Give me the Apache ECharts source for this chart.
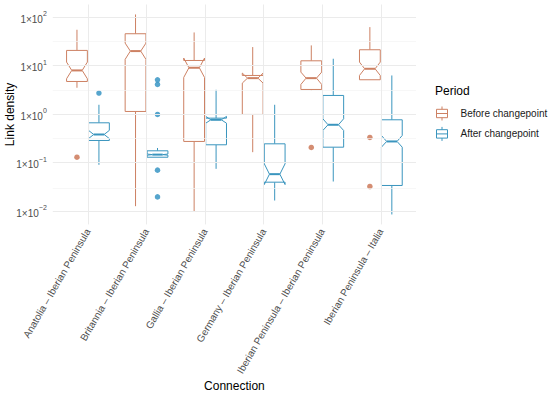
<!DOCTYPE html>
<html><head><meta charset="utf-8">
<script src="https://cdn.jsdelivr.net/npm/echarts@6/dist/echarts.min.js"></script>
<style>html,body{margin:0;padding:0;background:#fff}#c{width:550px;height:394px}</style>
</head><body><div id="c"></div>
<script>
const categories = ['Anatolia – Iberian Peninsula','Britannia – Iberian Peninsula','Gallia – Iberian Peninsula','Germany – Iberian Peninsula','Iberian Peninsula – Iberian Peninsula','Iberian Peninsula – Italia'];
const periods = ['Before changepoint','After changepoint'];
// Before changepoint
const beforeLow       = [3.5,   0.0126, 0.0098, 0.164, 3.09, 5.12];
const beforeQ1        = [4.72,  1.135,  0.273,  0.984, 3.23, 5.12];
const beforeMedian    = [7.98,  20.0,   9.06,   5.53,  5.53, 8.63];
const beforeQ3        = [20.65, 45.6,   12.8,   6.28,  12.6, 21.3];
const beforeHigh      = [55.1,  114,    48.5,   24.2,  26.2, 62.5];
const beforeNotchLow  = [5.37,  13.5,   5.71,   4.37,  4.1,  6.28];
const beforeNotchHigh = [11.86, 29.2,   14.35,  7.03,  7.36, 11.86];
const beforeOutliers  = [[1, 0.129], [5, 0.205], [6, 0.33], [6, 0.0321]];
// After changepoint
const afterLow       = [0.09,  0.129, 0.0743, 0.0165, 0.0407, 0.0085];
const afterQ1        = [0.286, 0.129, 0.233,  0.0394, 0.208,  0.0337];
const afterMedian    = [0.38,  0.146, 0.764,  0.0577, 0.603,  0.273];
const afterQ3        = [0.662, 0.175, 0.826,  0.244,  2.43,   0.764];
const afterHigh      = [1.56,  0.2,   3.18,   1.56,   13.9,   6.28];
const afterNotchLow  = [0.313, 0.142, 0.65,   0.0352, 0.46,   0.208];
const afterNotchHigh = [0.462, 0.150, 0.897,  0.0944, 0.802,  0.363];
const afterOutliers  = [[1, 2.72], [2, 5.12], [2, 4.1], [2, 0.984], [2, 0.0698], [2, 0.0196]];
// Axis ticks
const yMajorTicks = [0.01, 0.1, 1, 10, 100];
const yMinorTicks = [0.0316, 0.316, 3.16, 31.6];

const COLORS = ['#CD8163', '#3A95BE'];
const DOT_COLORS = ['#C9714F', '#2C8FC0'];
const OFFSET = [-0.1875, 0.1875];
const BOX_W = 0.355;
const FONT = 'Liberation Sans, Arial, Helvetica, sans-serif';

function boxData(lo, q1, med, q3, hi, nl, nh) {
  return categories.map((c, i) => [i + 1, lo[i], q1[i], med[i], q3[i], hi[i], nl[i], nh[i]]);
}

function makeRender(g) {
  return function (params, api) {
    const cx = api.value(0) + OFFSET[g];
    const lo = api.value(1), q1 = api.value(2), med = api.value(3), q3 = api.value(4);
    const hi = api.value(5), nl = api.value(6), nh = api.value(7);
    const pL = api.coord([cx - BOX_W / 2, med])[0];
    const pR = api.coord([cx + BOX_W / 2, med])[0];
    const pC = api.coord([cx, med])[0];
    const Y = v => api.coord([cx, v])[1];
    const ind = (pR - pL) * 0.25;
    const col = COLORS[g];
    const children = [];
    children.push({ type: 'line', shape: { x1: pC, y1: Y(q3), x2: pC, y2: Y(hi) }, style: { stroke: col, lineWidth: 1 } });
    children.push({ type: 'line', shape: { x1: pC, y1: Y(q1), x2: pC, y2: Y(lo) }, style: { stroke: col, lineWidth: 1 } });
    children.push({
      type: 'polygon',
      shape: { points: [[pL, Y(q3)], [pL, Y(nh)], [pL + ind, Y(med)], [pL, Y(nl)], [pL, Y(q1)],
                        [pR, Y(q1)], [pR, Y(nl)], [pR - ind, Y(med)], [pR, Y(nh)], [pR, Y(q3)]] },
      style: { fill: '#ffffff', stroke: col, lineWidth: 1 }
    });
    children.push({ type: 'line', shape: { x1: pL + ind, y1: Y(med), x2: pR - ind, y2: Y(med) }, style: { stroke: col, lineWidth: 2 } });
    return { type: 'group', children };
  };
}

const gridLines = [];
yMajorTicks.forEach(v => gridLines.push({ yAxis: v, lineStyle: { color: '#EBEBEB', width: 1, type: 'solid' } }));
yMinorTicks.forEach(v => gridLines.push({ yAxis: v, lineStyle: { color: '#F3F3F3', width: 0.7, type: 'solid' } }));
categories.forEach((c, i) => gridLines.push({ xAxis: i + 1, lineStyle: { color: '#EBEBEB', width: 1, type: 'solid' } }));

const legendIcon = 'path://M55,0L55,28M0,28L110,28L110,112L0,112ZM0,70L110,70M55,112L55,140';

const chart = echarts.init(document.getElementById('c'), null, { renderer: 'svg' });
chart.setOption({
  animation: false,
  backgroundColor: '#ffffff',
  textStyle: { fontFamily: FONT },
  title: { text: 'Period', left: 430, top: 80, textStyle: { fontSize: 12, fontWeight: 'normal', color: '#000', fontFamily: FONT } },
  legend: {
    orient: 'vertical', left: 436, top: 106, padding: 0, itemWidth: 11, itemHeight: 14, itemGap: 5.4,
    icon: legendIcon, selectedMode: false,
    textStyle: { fontSize: 10, color: '#1a1a1a', fontFamily: FONT, padding: [0, 0, 0, 8], overflow: 'none' },
    data: periods.map((p, g) => ({ name: p, itemStyle: { color: 'rgba(255,255,255,0)', borderColor: COLORS[g], borderWidth: 1 } }))
  },
  grid: { left: 52.8, right: 134, top: 4.5, bottom: 169.6, containLabel: false, outerBoundsMode: 'none' },
  xAxis: {
    type: 'value', min: 0.4, max: 6.6, interval: 0.2,
    name: 'Connection', nameLocation: 'middle', nameGap: 156, nameMoveOverlap: false,
    nameTextStyle: { fontSize: 12, color: '#000', fontFamily: FONT },
    axisLine: { show: false }, axisTick: { show: false }, splitLine: { show: false },
    axisLabel: {
      rotate: 60, margin: 5, fontSize: 10, color: '#4D4D4D', fontFamily: FONT,
      formatter: v => { const r = Math.round(v); return (Math.abs(v - r) < 1e-6 && r >= 1 && r <= 6) ? categories[r - 1] : ''; }
    }
  },
  yAxis: {
    type: 'log', logBase: 10, min: 0.0053, max: 183,
    name: 'Link density', nameLocation: 'middle', nameGap: 36.5, nameMoveOverlap: false,
    nameTextStyle: { fontSize: 12, color: '#000', fontFamily: FONT },
    axisLine: { show: false }, axisTick: { show: false }, splitLine: { show: false },
    axisLabel: {
      margin: 6, color: '#4D4D4D', fontFamily: FONT,
      formatter: v => {
        const l = Math.log10(v), e = Math.round(l);
        if (Math.abs(l - e) > 1e-6) return '';
        return '{b|1×10}{s|' + (e < 0 ? '−' + (-e) : e) + '}';
      },
      rich: {
        b: { fontSize: 10, lineHeight: 14, verticalAlign: 'bottom', color: '#4D4D4D', fontFamily: FONT },
        s: { fontSize: 7, lineHeight: 14, verticalAlign: 'top', color: '#4D4D4D', fontFamily: FONT }
      }
    }
  },
  series: [
    { type: 'scatter', name: 'grid', data: [], silent: true, z: 0,
      markLine: { silent: true, symbol: ['none', 'none'], label: { show: false }, animation: false, data: gridLines } },
    { type: 'custom', name: periods[0], renderItem: makeRender(0), itemStyle: { color: COLORS[0] }, z: 2,
      encode: { x: 0, y: [1, 2, 3, 4, 5, 6, 7] },
      data: boxData(beforeLow, beforeQ1, beforeMedian, beforeQ3, beforeHigh, beforeNotchLow, beforeNotchHigh) },
    { type: 'custom', name: periods[1], renderItem: makeRender(1), itemStyle: { color: COLORS[1] }, z: 2,
      encode: { x: 0, y: [1, 2, 3, 4, 5, 6, 7] },
      data: boxData(afterLow, afterQ1, afterMedian, afterQ3, afterHigh, afterNotchLow, afterNotchHigh) },
    { type: 'scatter', name: periods[0] + ' outliers', symbolSize: 5.5, z: 3,
      itemStyle: { color: DOT_COLORS[0] },
      data: beforeOutliers.map(d => [d[0] + OFFSET[0], d[1]]) },
    { type: 'scatter', name: periods[1] + ' outliers', symbolSize: 5.5, z: 3,
      itemStyle: { color: DOT_COLORS[1] },
      data: afterOutliers.map(d => [d[0] + OFFSET[1], d[1]]) }
  ]
});
</script></body></html>
